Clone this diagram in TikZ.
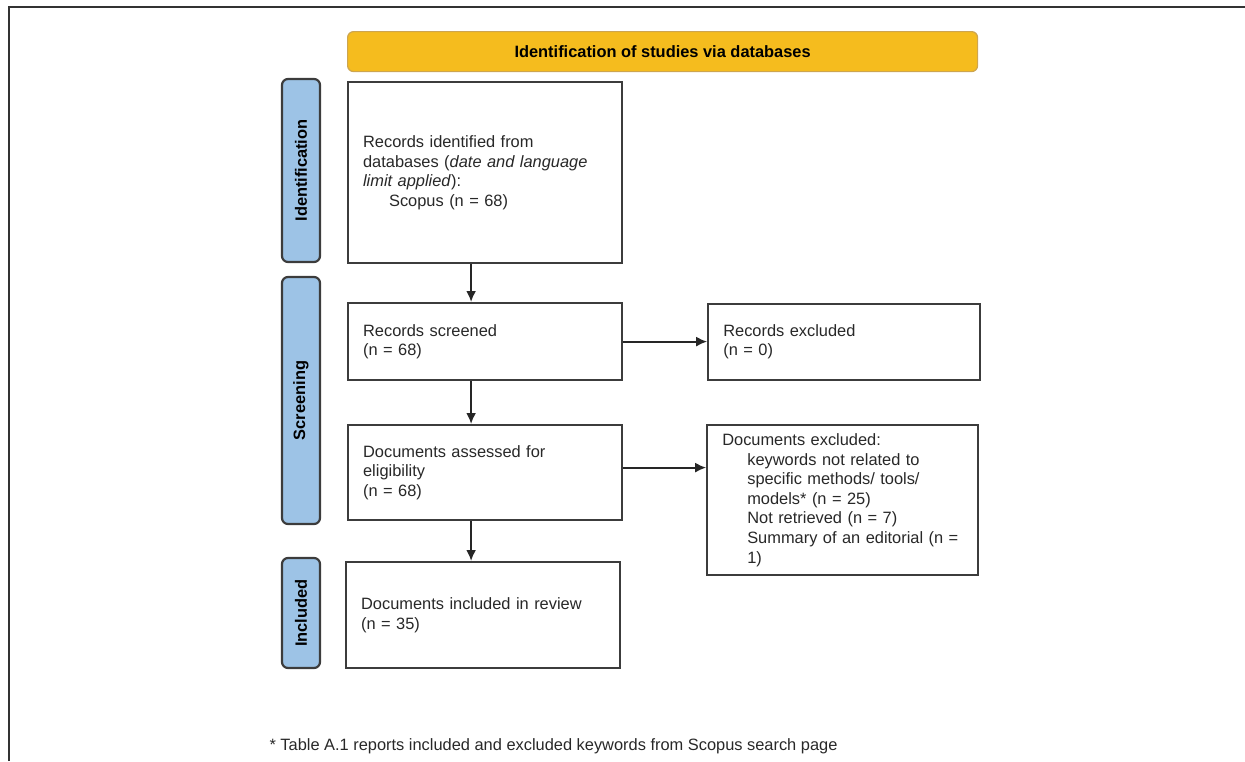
\documentclass[tikz,border=0pt]{standalone}
\usepackage{fontspec}
\setmainfont{Liberation Sans}
\usetikzlibrary{positioning}
\usetikzlibrary{arrows.meta}
\definecolor{headyellow}{RGB}{245,188,30}
\definecolor{headedge}{RGB}{205,165,80}
\definecolor{phaseblue}{RGB}{157,195,230}
\definecolor{edgegray}{RGB}{60,60,60}
\definecolor{txtgray}{RGB}{40,40,40}

\begin{document}
\begin{tikzpicture}[x=1pt,y=-1pt,
  stagebox/.style={draw=edgegray,line width=2.2pt,fill=white,anchor=north west,align=left,inner xsep=15pt,text=txtgray,font=\fontsize{16.4}{19.6}\selectfont},
  phase/.style={draw=edgegray,line width=2.2pt,fill=phaseblue,rounded corners=6pt,rotate=90,minimum height=38pt,inner sep=0pt,font=\fontsize{16.4}{19}\selectfont\bfseries},
  flow/.style={line width=2pt,draw=black!85,-{Latex[length=11pt,width=10pt]}}]
  \useasboundingbox (0,0) rectangle (1245,761);
  \draw[line width=1.8pt,black!80] (9,761) -- (9,7) -- (1245,7);

  \node[draw=headedge,fill=headyellow,rounded corners=6pt,line width=1.2pt,minimum width=630pt,minimum height=40pt,anchor=north west,font=\fontsize{16.4}{19}\selectfont\bfseries] (head) at (347,31) {Identification of studies via databases};

  \node[phase,minimum width=183pt] (idph) at (301,170.5) {Identification};
  \node[phase,minimum width=247pt] (scph) at (301,400.5) {Screening};
  \node[phase,minimum width=110pt] (inph) at (301,613) {Included};

  \node[stagebox,text width=244pt,minimum height=181pt] (ident) at (347,81) {Records identified from\\databases (\textit{date and language}\\\textit{limit applied}):\\\hspace*{26pt}Scopus (n = 68)};
  \node[stagebox,text width=244pt,minimum height=77pt] (screen) at (347,302) {Records screened\\(n = 68)};
  \node[stagebox,text width=244pt,minimum height=95pt] (assess) at (347,424) {Documents assessed for\\eligibility\\(n = 68)};
  \node[stagebox,text width=244pt,minimum height=106pt] (incl) at (345,561) {Documents included in review\\(n = 35)};

  \node[stagebox,right=84pt of screen,text width=242pt,minimum height=76pt] (recexcl) {Records excluded\\(n = 0)};
  \node[stagebox,right=83pt of assess.north east,anchor=north west,text width=241pt,minimum height=150pt] (docexcl) {Documents excluded:\\
    \hspace*{25pt}keywords not related to\\
    \hspace*{25pt}specific methods/ tools/\\
    \hspace*{25pt}models* (n = 25)\\
    \hspace*{25pt}Not retrieved (n = 7)\\
    \hspace*{25pt}Summary of an editorial (n =\\
    \hspace*{25pt}1)};

  \node[anchor=west,text=txtgray,font=\fontsize{16.4}{19}\selectfont] (note) at (266,746) {* Table A.1 reports included and excluded keywords from Scopus search page};

  \draw[flow] ([xshift=-14pt]ident.south) -- ([xshift=-14pt]screen.north);
  \draw[flow] ([xshift=-14pt]screen.south) -- ([xshift=-14pt]assess.north);
  \draw[flow] ([xshift=-14pt]assess.south) -- ([xshift=-12pt]incl.north);
  \draw[flow] (screen.east) -- (recexcl.west);
  \draw[flow] ([yshift=5pt]assess.east) -- ([yshift=5pt]assess.east -| docexcl.west);
\end{tikzpicture}
\end{document}
